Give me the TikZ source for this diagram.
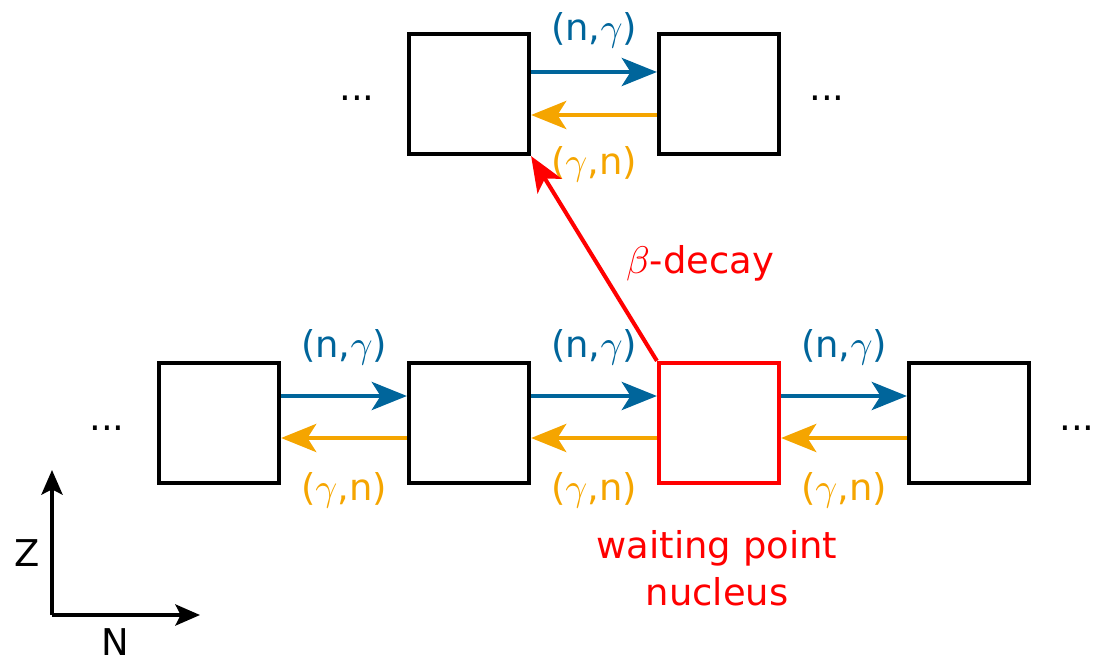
\documentclass[tikz,border=0pt]{standalone}
\usepackage{fontspec}
\setmainfont{DejaVu Sans}
\usetikzlibrary{arrows.meta}

\definecolor{ngblue}{RGB}{0,101,155}
\definecolor{gnorange}{RGB}{245,165,0}

\tikzset{
	nucleus/.style={draw, line width=1.2pt, minimum size=1.2cm, inner sep=0pt},
	capture/.style={->, ngblue, line width=1.15pt},
	photodis/.style={->, gnorange, line width=1.15pt},
}

\begin{document}
\begin{tikzpicture}[every node/.style={font=\fontsize{10.5}{13.3}\selectfont}, >={Stealth[length=10pt,width=8pt,inset=2.5pt]}]
	\useasboundingbox (0,0) rectangle (10.95,6.58);
	% bottom row of isotopes
	\node[nucleus] (b1) at (2.19,2.35) {};
	\node[nucleus] (b2) at (4.69,2.35) {};
	\node[nucleus, red] (wp) at (7.19,2.35) {};
	\node[nucleus] (b4) at (9.69,2.35) {};
	% next element up
	\node[nucleus] (t2) at (4.69,5.64) {};
	\node[nucleus] (t3) at (7.19,5.64) {};
	
	\node (dl) at (1.07,2.30) {...};
	\node (dr) at (10.77,2.30) {...};
	\node (tl) at (3.57,5.60) {...};
	\node (tr) at (8.27,5.60) {...};
	
	% (n,g) and (g,n) between neighbours
	\foreach \a/\b/\i in {b1/b2/1, b2/wp/2, wp/b4/3} {
		\draw[capture] ([yshift=0.27cm]\a.east) -- node[above=5pt, ngblue] (ng\i) {(n,$\gamma$)} ([yshift=0.27cm]\b.west);
		\draw[photodis] ([yshift=-0.15cm]\b.west) -- node[below=6pt, gnorange] (gn\i) {($\gamma$,n)} ([yshift=-0.15cm]\a.east);
	}
	\draw[capture] ([yshift=0.22cm]t2.east) -- node[above=3pt, ngblue] (ngt) {(n,$\gamma$)} ([yshift=0.22cm]t3.west);
	\draw[photodis] ([yshift=-0.21cm]t3.west) -- node[below=5pt, gnorange] (gnt) {($\gamma$,n)} ([yshift=-0.21cm]t2.east);
	
	% beta decay of the waiting point
	\draw[->, red, line width=1.15pt] (wp.north west) -- (t2.south east);
	\node[red] (beta) at (7.00,3.95) {$\beta$-decay};
	\node[red, align=center] (wplabel) at (7.17,0.90) {waiting point\\nucleus};
	
	% axes
	\coordinate (o) at (0.52,0.43);
	\coordinate (zend) at (0.52,1.88);
	\coordinate (nend) at (2.00,0.43);
	\draw[->, line width=1.1pt, >={Stealth[length=7pt,width=6pt,inset=1.5pt]}] (o) -- (zend);
	\draw[->, line width=1.1pt, >={Stealth[length=7pt,width=6pt,inset=1.5pt]}] (o) -- (nend);
	\node (zlab) at (0.27,1.05) {Z};
	\node (nlab) at (1.15,0.16) {N};
\end{tikzpicture}
\end{document}
